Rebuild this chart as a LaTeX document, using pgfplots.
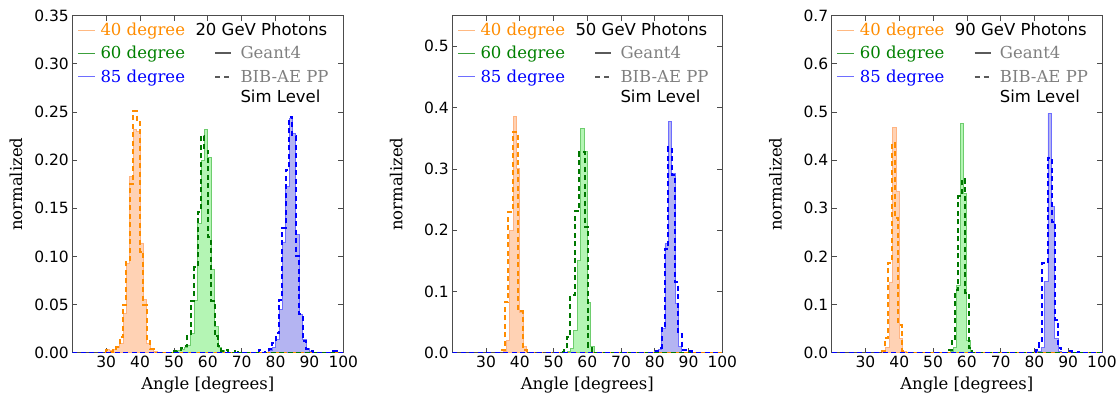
\documentclass[border=0pt]{standalone}
\usepackage{pgfplots}
\pgfplotsset{compat=1.18}
\usepackage{fontspec}
\setmainfont{DejaVu Serif}
\newfontfamily\dvs{DejaVu Sans}
\definecolor{fillO}{RGB}{255,210,180}
\definecolor{lineO}{RGB}{255,180,130}
\definecolor{dashO}{RGB}{255,140,0}
\definecolor{fillG}{RGB}{180,245,180}
\definecolor{lineG}{RGB}{110,205,110}
\definecolor{dashG}{RGB}{0,120,0}
\definecolor{fillB}{RGB}{180,180,242}
\definecolor{lineB}{RGB}{110,110,255}
\definecolor{dashB}{RGB}{0,0,255}
\definecolor{tO}{RGB}{255,140,0}
\definecolor{tG}{RGB}{0,128,0}
\definecolor{tB}{RGB}{0,0,255}
\definecolor{hO}{RGB}{255,185,130}
\definecolor{hG}{RGB}{60,160,60}
\definecolor{hB}{RGB}{110,110,255}
\definecolor{tGray}{RGB}{128,128,128}
\definecolor{hGray}{RGB}{90,90,90}
\newcommand{\legfont}{\fontsize{16.5}{19}\selectfont}
\newcommand{\legsans}{\dvs\fontsize{16.5}{19}\selectfont}
\newcommand{\panellegend}[1]{%
  \draw[hO, line width=1pt] ([xshift=5.7pt,yshift=-14.3pt]rel axis cs:0,1) -- ([xshift=22.4pt,yshift=-14.3pt]rel axis cs:0,1);
  \draw[hG, line width=1pt] ([xshift=5.7pt,yshift=-37.6pt]rel axis cs:0,1) -- ([xshift=22.4pt,yshift=-37.6pt]rel axis cs:0,1);
  \draw[hB, line width=1pt] ([xshift=5.7pt,yshift=-61pt]rel axis cs:0,1) -- ([xshift=22.4pt,yshift=-61pt]rel axis cs:0,1);
  \node[anchor=base west, inner sep=0pt, text=tO, font=\legfont] at ([xshift=28pt,yshift=-19.6pt]rel axis cs:0,1) {40 degree};
  \node[anchor=base west, inner sep=0pt, text=tG, font=\legfont] at ([xshift=28pt,yshift=-43pt]rel axis cs:0,1) {60 degree};
  \node[anchor=base west, inner sep=0pt, text=tB, font=\legfont] at ([xshift=28pt,yshift=-66.3pt]rel axis cs:0,1) {85 degree};
  \node[anchor=base west, inner sep=0pt, text=black, font=\legsans] at ([xshift=123pt,yshift=-19.6pt]rel axis cs:0,1) {#1};
  \draw[hGray, line width=1.8pt] ([xshift=143pt,yshift=-37.6pt]rel axis cs:0,1) -- ([xshift=159pt,yshift=-37.6pt]rel axis cs:0,1);
  \draw[hGray, line width=1.8pt, dash pattern=on 5pt off 4pt] ([xshift=143pt,yshift=-61.5pt]rel axis cs:0,1) -- ([xshift=159pt,yshift=-61.5pt]rel axis cs:0,1);
  \node[anchor=base west, inner sep=0pt, text=tGray, font=\legfont] at ([xshift=168pt,yshift=-43pt]rel axis cs:0,1) {Geant4};
  \node[anchor=base west, inner sep=0pt, text=tGray, font=\legfont] at ([xshift=168pt,yshift=-66.3pt]rel axis cs:0,1) {BIB-AE PP};
  \node[anchor=base west, inner sep=0pt, text=black, font=\legsans] at ([xshift=168pt,yshift=-86.3pt]rel axis cs:0,1) {Sim Level};
}
\pgfplotsset{
  panel/.style={
    scale only axis, height=337pt, anchor=south west,
    xmin=20, xmax=100, ymin=0,
    xtick={30,40,50,60,70,80,90,100},
    tick align=inside, major tick length=5pt,
    tick style={black!70, line width=0.7pt},
    axis line style={black!70, line width=0.8pt},
    /pgf/number format/assume math mode=true,
    tick label style={font=\dvs\fontsize{15.5}{18}\selectfont},
    label style={font=\fontsize{16.5}{19}\selectfont},
    xlabel={Angle [degrees]}, ylabel={normalized},
    xlabel style={at={(axis description cs:0.5,-0.0965)}, anchor=center},
    ylabel style={at={(axis description cs:-0.208,0.5)}, anchor=center},
  },
  solidO/.style={const plot, fill=fillO, draw=lineO, line width=0.8pt},
  solidG/.style={const plot, fill=fillG, draw=lineG, line width=0.8pt},
  solidB/.style={const plot, fill=fillB, draw=lineB, line width=0.8pt},
  dashedO/.style={const plot, draw=dashO, line width=2pt, dash pattern=on 5pt off 3.5pt},
  dashedG/.style={const plot, draw=dashG, line width=2pt, dash pattern=on 5pt off 3.5pt},
  dashedB/.style={const plot, draw=dashB, line width=2pt, dash pattern=on 5pt off 3.5pt},
}
\begin{document}
\begin{tikzpicture}
\useasboundingbox (0,0) rectangle (1119pt,394pt);
% ---------------- Panel 1: 20 GeV
\begin{axis}[panel, at={(72.3pt,41.3pt)}, width=271pt, ymax=0.35,
  ytick={0,0.05,0.10,0.15,0.20,0.25,0.30,0.35},
  yticklabel style={/pgf/number format/.cd, fixed, fixed zerofill, precision=2}]
\addplot[solidO] coordinates {(30,0)(30,0.003)(31,0.002)(32,0.003)(33,0.005)(34,0.010)(35,0.041)(36,0.093)(37,0.183)(38,0.232)(39,0.230)(40,0.114)(41,0.055)(42,0.010)(43,0.003)(44,0.001)(45,0)} \closedcycle;
\addplot[solidG] coordinates {(51,0)(51,0.002)(52,0.003)(53,0.006)(54,0.008)(55,0.020)(56,0.054)(57,0.134)(58,0.200)(59,0.232)(60,0.203)(61,0.086)(62,0.027)(63,0.005)(64,0.002)(65,0)} \closedcycle;
\addplot[solidB] coordinates {(78,0)(78,0.002)(79,0.005)(80,0.014)(81,0.045)(82,0.115)(83,0.173)(84,0.243)(85,0.228)(86,0.123)(87,0.040)(88,0.014)(89,0.004)(90,0.001)(91,0)} \closedcycle;
\addplot[dashedO] coordinates {(20,0)(29,0.001)(30,0.003)(31,0.001)(32,0.003)(33,0.006)(34,0.016)(35,0.050)(36,0.094)(37,0.175)(38,0.251)(39,0.240)(40,0.105)(41,0.050)(42,0.012)(43,0.004)(44,0)(100,0)};
\addplot[dashedG] coordinates {(20,0)(49,0.001)(50,0.002)(51,0.003)(52,0.005)(53,0.007)(54,0.017)(55,0.054)(56,0.089)(57,0.146)(58,0.225)(59,0.210)(60,0.120)(61,0.054)(62,0.017)(63,0.007)(64,0.002)(65,0.003)(66,0)(68,0.002)(69,0)(100,0)};
\addplot[dashedB] coordinates {(20,0)(75,0.003)(76,0)(77,0.001)(78,0.004)(79,0.010)(80,0.020)(81,0.055)(82,0.130)(83,0.190)(84,0.245)(85,0.225)(86,0.100)(87,0.040)(88,0.012)(89,0.004)(90,0.002)(91,0)(97,0.002)(98,0)(100,0)};
\panellegend{20 GeV Photons}
\end{axis}
% ---------------- Panel 2: 50 GeV
\begin{axis}[panel, at={(452.3pt,41.3pt)}, width=270pt, ymax=0.55,
  ytick={0,0.1,0.2,0.3,0.4,0.5},
  yticklabel style={/pgf/number format/.cd, fixed, fixed zerofill, precision=1}]
\addplot[solidO] coordinates {(35,0)(35,0.002)(36,0.020)(37,0.200)(38,0.385)(39,0.300)(40,0.065)(41,0.010)(42,0)} \closedcycle;
\addplot[solidG] coordinates {(54,0)(54,0.002)(55,0.007)(56,0.037)(57,0.150)(58,0.366)(59,0.328)(60,0.082)(61,0.010)(62,0)} \closedcycle;
\addplot[solidB] coordinates {(80,0)(80,0.002)(81,0.005)(82,0.040)(83,0.178)(84,0.378)(85,0.293)(86,0.080)(87,0.010)(88,0)} \closedcycle;
\addplot[dashedO] coordinates {(20,0)(34.6,0.005)(35.6,0.082)(36.6,0.230)(37.9,0.360)(39.5,0.068)(40.9,0.005)(42,0)(100,0)};
\addplot[dashedG] coordinates {(20,0)(52,0.001)(53,0.005)(54,0.025)(55,0.094)(56.4,0.232)(57.6,0.328)(59.3,0.205)(60.3,0.010)(61.3,0.003)(62.3,0)(100,0)};
\addplot[dashedB] coordinates {(20,0)(80,0.002)(81,0.008)(82,0.040)(83,0.170)(84,0.335)(85,0.290)(86,0.115)(87,0.030)(88,0.005)(89,0.004)(90,0.002)(91,0)(100,0)};
\panellegend{50 GeV Photons}
\end{axis}
% ---------------- Panel 3: 90 GeV
\begin{axis}[panel, at={(831.7pt,41.3pt)}, width=270.3pt, ymax=0.7,
  ytick={0,0.1,0.2,0.3,0.4,0.5,0.6,0.7},
  yticklabel style={/pgf/number format/.cd, fixed, fixed zerofill, precision=1}]
\addplot[solidO] coordinates {(35,0)(35,0.002)(36,0.010)(37,0.147)(38,0.467)(39,0.336)(40,0.030)(41,0.003)(42,0)} \closedcycle;
\addplot[solidG] coordinates {(55,0)(55,0.002)(56,0.010)(57,0.140)(58,0.476)(59,0.330)(60,0.025)(61,0)} \closedcycle;
\addplot[solidB] coordinates {(81,0)(81,0.002)(82,0.010)(83,0.148)(84,0.497)(85,0.303)(86,0.030)(87,0.003)(88,0)} \closedcycle;
\addplot[dashedO] coordinates {(20,0)(34.75,0.003)(35.75,0.030)(36.75,0.187)(37.75,0.435)(38.75,0.280)(39.75,0.058)(40.75,0.003)(41.75,0)(100,0)};
\addplot[dashedG] coordinates {(20,0)(54.5,0.005)(55.5,0.025)(56.5,0.130)(57.5,0.325)(58.5,0.360)(59.5,0.125)(60.5,0.010)(61.5,0)(100,0)};
\addplot[dashedB] coordinates {(20,0)(80.5,0.005)(81.5,0.020)(82.2,0.186)(83.9,0.405)(85.1,0.272)(86.1,0.068)(87.1,0.010)(88,0)(90,0.003)(91,0)(93,0.002)(94,0)(100,0)};
\panellegend{90 GeV Photons}
\end{axis}
\end{tikzpicture}
\end{document}
